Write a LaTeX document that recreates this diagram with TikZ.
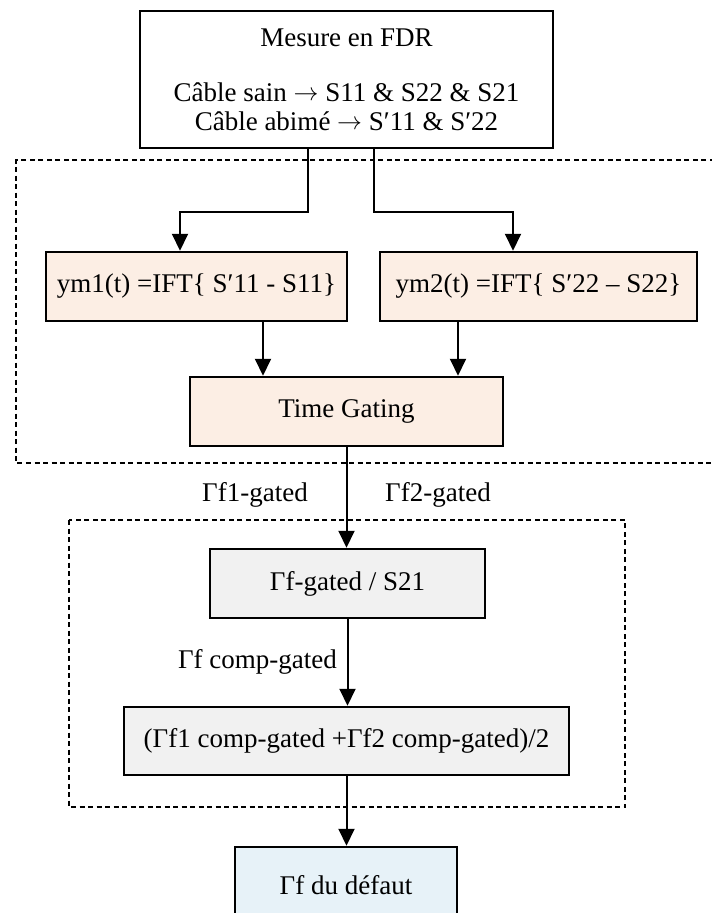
\documentclass[tikz,border=0pt]{standalone}
\usepackage{fontspec}
\setmainfont{Liberation Serif}
\usetikzlibrary{arrows.meta}
\definecolor{peach}{HTML}{FCEEE4}
\definecolor{lgray}{HTML}{F1F1F1}
\definecolor{lblue}{HTML}{E7F2F8}
\newcommand{\myarrow}{\raisebox{0.5pt}{$\rightarrow$}}
\begin{document}
\begin{tikzpicture}[x=1pt,y=-1pt,
  txt/.style={font=\fontsize{27}{29}\selectfont},
  box/.style={draw, line width=2.5pt, inner sep=0pt, align=center, txt},
  arr/.style={line width=2pt, -{Triangle[width=16pt,length=17pt]}},
  frame/.style={line width=2.5pt, dash pattern=on 5pt off 3.5pt},
  lbl/.style={txt, inner sep=0pt}]
\useasboundingbox (0,0) rectangle (712,913);
% dashed frames
\draw[frame] (740,160) -- (16,160) -- (16,463) -- (740,463);
\draw[frame] (69,520) rectangle (625,807);
% nodes
\node[box, fill=white, minimum width=413pt, minimum height=137pt] (top) at (346.5,79.5)
  {Mesure en FDR\\[26pt]Câble sain \myarrow{} S11 \& S22 \& S21\\Câble abimé \myarrow{} S′11 \& S′22};
\node[box, fill=peach, minimum width=301pt, minimum height=69pt] (ym1) at (196.5,286.5)
  {ym1(t) =IFT\{ S′11 - S11\}};
\node[box, fill=peach, minimum width=317pt, minimum height=69pt] (ym2) at (538.5,286.5)
  {ym2(t) =IFT\{ S′22 – S22\}};
\node[box, fill=peach, minimum width=313pt, minimum height=69pt] (tg) at (346.5,411.5)
  {Time Gating};
\node[box, fill=lgray, minimum width=275pt, minimum height=69pt] (gs) at (347.5,583.5)
  {Γf-gated / S21};
\node[box, fill=lgray, minimum width=445pt, minimum height=68pt] (avg) at (346.5,741)
  {(Γf1 comp-gated +Γf2 comp-gated)/2};
\node[box, fill=lblue, minimum width=222pt, minimum height=76pt] (def) at (346,885)
  {Γf du défaut};
% labels
\node[lbl] (l1) at (255,495) {Γf1-gated};
\node[lbl] (l2) at (438,495) {Γf2-gated};
\node[lbl, anchor=east] (l3) at (337,662) {Γf comp-gated};
% connector start points
\coordinate (t1) at ([xshift=-39pt]top.south);
\coordinate (t2) at ([xshift=27.5pt]top.south);
\coordinate (e1) at ([xshift=-16.5pt]ym1.north);
\coordinate (e2) at ([xshift=-25.5pt]ym2.north);
\coordinate (a1) at ([xshift=66.5pt]ym1.south);
\coordinate (a2) at ([xshift=-80.5pt]ym2.south);
% connectors
\draw[arr] (t1) -- ++(0,63) -| (e1);
\draw[arr] (t2) -- ++(0,63) -| (e2);
\draw[arr] (a1) -- (a1 |- tg.north);
\draw[arr] (a2) -- (a2 |- tg.north);
\draw[arr] (tg.south) -- (gs.north -| tg.south);
\draw[arr] (gs.south) -- (avg.north -| gs.south);
\draw[arr] (avg.south) -- (def.north -| avg.south);
\end{tikzpicture}
\end{document}
